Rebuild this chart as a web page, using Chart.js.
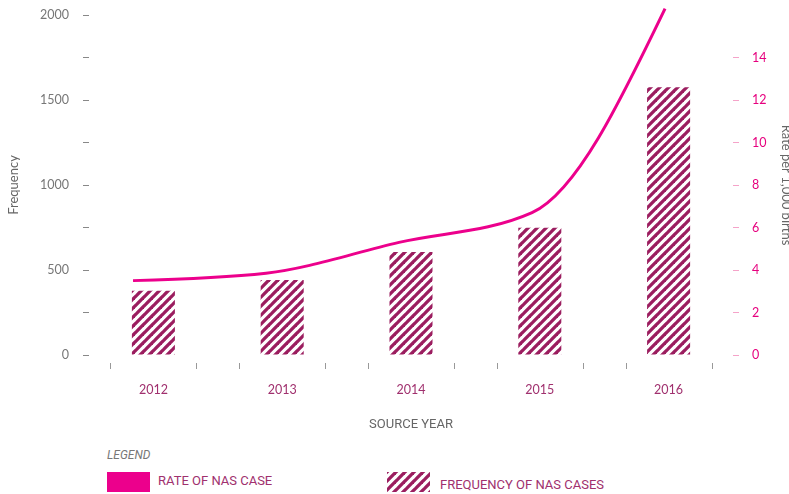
<!DOCTYPE html>
<html>
<head>
<meta charset="utf-8">
<script src="https://cdn.jsdelivr.net/npm/chart.js@4"></script>
<style>
    body { margin: 0; background: #fff; }
    #wrap { position: relative; width: 789px; height: 494px; overflow: hidden; }
    #chartBox { position: absolute; left: 0; top: 0; width: 789px; height: 440px; }
    .legend-title { position: absolute; left: 107px; top: 448px; font: italic 12px Roboto, sans-serif; color: #777; }
    .swatch { position: absolute; top: 472px; width: 43px; height: 20px; }
    .legend-text { position: absolute; font: 13px Roboto, sans-serif; color: #a0306e; }
</style>
</head>
<body>
<div id="wrap">
    <div id="chartBox"><canvas id="nasChart"></canvas></div>
    <div class="legend-title">LEGEND</div>
    <div class="swatch" style="left:107px; background:#ec008c;"></div>
    <div class="legend-text" style="left:158px; top:473px;">RATE OF NAS CASE</div>
    <div class="swatch" id="hatchSwatch" style="left:387px;"></div>
    <div class="legend-text" style="left:440px; top:477px;">FREQUENCY OF NAS CASES</div>
</div>
<script>
const years = ['2012', '2013', '2014', '2015', '2016'];
const lineYears = [2012, 2013, 2014, 2015, 2016];
const frequency = [378, 441, 606, 748, 1575];
const ratePer1000 = [3.5, 3.85, 5.3, 6.7, 16.3];

const BAR_COLOR = '#9b1d5f';
const LINE_COLOR = '#ec008c';

// patrón de rayas diagonales para las barras
const makeHatch = () => {
    const s = 9;
    const c = document.createElement('canvas');
    c.width = s; c.height = s;
    const g = c.getContext('2d');
    g.strokeStyle = BAR_COLOR;
    g.lineWidth = 3.3;
    [[0, s, s, 0], [-s / 2, s / 2, s / 2, -s / 2], [s / 2, s * 1.5, s * 1.5, s / 2]].forEach(([a, b, d, e]) => {
        g.beginPath(); g.moveTo(a, b); g.lineTo(d, e); g.stroke();
    });
    return c;
};
const hatchCanvas = makeHatch();
document.getElementById('hatchSwatch').style.background = `url(${hatchCanvas.toDataURL()})`;

// marcas del eje x a cada lado de la categoría
const groupTicks = {
    id: 'groupTicks',
    afterDraw(chart) {
        const x = chart.scales.x;
        const ctx = chart.ctx;
        const w = (chart.chartArea.right - chart.chartArea.left) / years.length;
        const y0 = chart.chartArea.bottom + 8;
        ctx.save();
        ctx.strokeStyle = '#999';
        ctx.lineWidth = 1;
        years.forEach((_, i) => {
            const cx = x.getPixelForValue(i);
            [-w / 3, w / 3].forEach(d => {
                ctx.beginPath();
                ctx.moveTo(Math.round(cx + d) + 0.5, y0);
                ctx.lineTo(Math.round(cx + d) + 0.5, y0 + 6);
                ctx.stroke();
            });
        });
        ctx.restore();
    }
};

// curva monótona estilo d3 (curveMonotoneX) para la línea
const monotoneX = {
    id: 'monotoneX',
    beforeDatasetDraw(chart, args) {
        const meta = args.meta;
        if (meta.type !== 'line') return;
        const line = meta.dataset;
        line.updateControlPoints(chart.chartArea, meta.indexAxis);
        const p = meta.data;
        const n = p.length;
        if (n < 3) return;
        const sec = [];
        for (let i = 0; i < n - 1; i++) sec.push((p[i + 1].y - p[i].y) / (p[i + 1].x - p[i].x));
        const m = new Array(n).fill(0);
        for (let i = 1; i < n - 1; i++) {
            const h0 = p[i].x - p[i - 1].x, h1 = p[i + 1].x - p[i].x;
            const s0 = sec[i - 1], s1 = sec[i];
            const q = (s0 * h1 + s1 * h0) / (h0 + h1);
            m[i] = (Math.sign(s0) + Math.sign(s1)) * Math.min(Math.abs(s0), Math.abs(s1), 0.5 * Math.abs(q)) || 0;
        }
        m[0] = (3 * sec[0] - m[1]) / 2;
        m[n - 1] = (3 * sec[n - 2] - m[n - 2]) / 2;
        for (let i = 0; i < n - 1; i++) {
            const dx = (p[i + 1].x - p[i].x) / 3;
            p[i].cp2x = p[i].x + dx;
            p[i].cp2y = p[i].y + dx * m[i];
            p[i + 1].cp1x = p[i + 1].x - dx;
            p[i + 1].cp1y = p[i + 1].y - dx * m[i + 1];
        }
        line._path = undefined;
    }
};

// ancho fijo y sin relleno extra arriba/abajo para los ejes verticales
const fixAxis = width => s => {
    s.width = width;
    s.paddingTop = 0;
    s.paddingBottom = 0;
};

const ctx = document.getElementById('nasChart').getContext('2d');
new Chart(ctx, {
    data: {
        labels: years,
        datasets: [{
            type: 'line',
            label: 'Rate of NAS case',
            data: lineYears.map((yr, i) => ({ x: yr, y: ratePer1000[i] })),
            xAxisID: 'xLine',
            yAxisID: 'yRate',
            borderColor: LINE_COLOR,
            borderWidth: 3,
            pointRadius: 0,
            cubicInterpolationMode: 'monotone',
            capBezierPoints: false,
            clip: false,
            order: 0
        }, {
            type: 'bar',
            label: 'Frequency of NAS cases',
            data: frequency,
            xAxisID: 'x',
            yAxisID: 'y',
            grouped: false,
            backgroundColor: ctx.createPattern(hatchCanvas, 'repeat'),
            categoryPercentage: 1,
            barPercentage: 0.334,
            order: 1
        }]
    },
    options: {
        responsive: true,
        maintainAspectRatio: false,
        animation: false,
        layout: { padding: { top: 15, bottom: 7, left: 0, right: 0 } },
        plugins: { legend: { display: false }, tooltip: { enabled: false } },
        scales: {
            x: {
                type: 'category',
                offset: true,
                grid: { display: false, drawTicks: false },
                border: { display: false },
                ticks: { color: '#a0306e', padding: 27, font: { family: 'Lato', size: 12.5 } },
                title: { display: true, text: 'SOURCE YEAR', color: '#666', padding: { top: 21, bottom: 0 }, font: { family: 'Roboto', size: 13 } },
                afterFit: s => { s.height = 78; }
            },
            xLine: {
                type: 'linear',
                display: false,
                min: 2011.669,
                max: 2016.511
            },
            y: {
                position: 'left',
                min: 0,
                max: 2000,
                ticks: {
                    stepSize: 250,
                    padding: 14,
                    color: '#777',
                    font: { family: 'Lato', size: 12.5 },
                    callback: v => (v % 500 === 0 ? v : '')
                },
                grid: { drawOnChartArea: false, tickLength: 6, tickColor: '#888' },
                border: { display: false },
                title: { display: true, text: 'Frequency', color: '#666', padding: { top: 6, bottom: 0 }, font: { family: 'Lato', size: 13 } },
                afterFit: fixAxis(89)
            },
            yRate: {
                position: 'right',
                min: 0,
                max: 16,
                ticks: {
                    stepSize: 2,
                    padding: 13,
                    color: '#e6007e',
                    font: { family: 'Lato', size: 12.5 },
                    callback: v => (v === 16 ? '' : v)
                },
                grid: {
                    drawOnChartArea: false,
                    tickLength: 6,
                    tickColor: c => (c.tick && c.tick.value === 16 ? 'rgba(0,0,0,0)' : '#f5a3c9')
                },
                border: { display: false },
                title: { display: true, text: 'Rate per 1,000 births', color: '#666', padding: { top: -4, bottom: 0 }, font: { family: 'Lato', size: 13, lineHeight: 1 } },
                afterFit: fixAxis(56)
            }
        }
    },
    plugins: [groupTicks, monotoneX]
});
</script>
</body>
</html>
